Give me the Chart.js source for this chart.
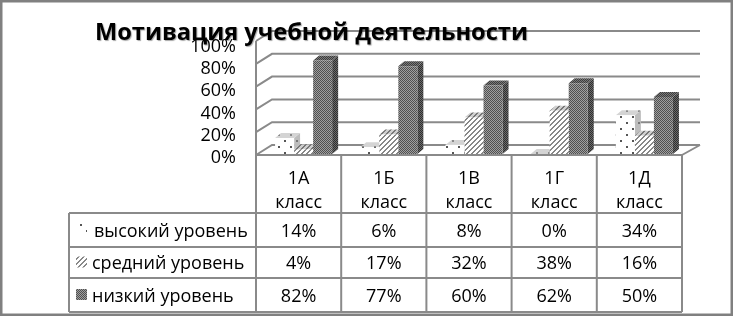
<!DOCTYPE html>
<html lang="ru">
<head>
    <meta charset="UTF-8">
    <title>Мотивация учебной деятельности</title>
    <script src="https://cdn.jsdelivr.net/npm/chart.js"></script>
    <style>
        html, body { margin: 0; padding: 0; background: #fff; overflow: hidden; }
        canvas { display: block; }
    </style>
</head>
<body>
    <canvas id="chart" width="733" height="316"></canvas>

    <script>
        const chartTitle = 'Мотивация учебной деятельности';
        const classNames = ['1А', '1Б', '1В', '1Г', '1Д'];
        const classWord = 'класс';
        const seriesNames = ['высокий уровень', 'средний уровень', 'низкий уровень'];
        const highLevel = [14, 6, 8, 0, 34];
        const middleLevel = [4, 17, 32, 38, 16];
        const lowLevel = [82, 77, 60, 62, 50];
        const yTicks = [0, 20, 40, 60, 80, 100];

        const FONT = '"Open Sans", sans-serif';
        const LINE = '#8a8a8a';

        // small tiles used as bar fills
        function tile(size, bg, paint) {
            const c = document.createElement('canvas');
            c.width = c.height = size;
            const g = c.getContext('2d');
            g.fillStyle = bg;
            g.fillRect(0, 0, size, size);
            paint(g);
            return g.createPattern(c, 'repeat');
        }
        function dots(bg, fg) {
            return tile(12, bg, g => {
                g.fillStyle = fg;
                g.fillRect(2, 2, 2, 2);
                g.fillRect(8, 8, 2, 2);
            });
        }
        function stripes(bg, fg) {
            return tile(5, bg, g => {
                g.fillStyle = fg;
                for (let i = 0; i < 5; i++) {
                    g.fillRect(i, 4 - i, 1, 1);
                    g.fillRect((i + 1) % 5, 4 - i, 1, 1);
                }
            });
        }
        function dense(bg, fg) {
            return tile(2, bg, g => {
                g.fillStyle = fg;
                g.fillRect(0, 0, 1, 1);
                g.fillRect(1, 1, 1, 1);
            });
        }

        const fronts = [dots('#ffffff', '#555555'), stripes('#ffffff', '#888888'), dense('#a0a0a0', '#505050')];
        const sides = [dots('#bdbdbd', '#777777'), stripes('#c4c4c4', '#6a6a6a'), dense('#6a6a6a', '#2e2e2e')];
        const tops = [dots('#d4d4d4', '#8a8a8a'), stripes('#cfcfcf', '#777777'), dense('#7a7a7a', '#3c3c3c')];

        const DEPTH_X = 6, DEPTH_Y = 5;

        // back wall, side wall and floor behind the bars
        function drawWalls(chart) {
            const ctx = chart.ctx, y = chart.scales.y, a = chart.chartArea;
            const left = a.left - 5, right = a.right - 5;
            ctx.save();
            ctx.strokeStyle = LINE;
            ctx.lineWidth = 2;
            yTicks.forEach(v => {
                const py = y.getPixelForValue(v);
                ctx.beginPath();
                ctx.moveTo(left, py + 1);
                ctx.lineTo(left + 16, py - 9);
                ctx.lineTo(right + 18, py - 9);
                ctx.stroke();
            });
            ctx.beginPath();
            ctx.moveTo(right, y.getPixelForValue(0) + 1);
            ctx.lineTo(right + 18, y.getPixelForValue(0) - 9);
            ctx.moveTo(left, y.getPixelForValue(100) + 1);
            ctx.lineTo(left, y.getPixelForValue(0) + 1);
            ctx.stroke();
            ctx.restore();
        }

        // side and top faces of one series
        function drawDepth(chart, index) {
            const ctx = chart.ctx, meta = chart.getDatasetMeta(index);
            ctx.save();
            meta.data.forEach(bar => {
                const l = bar.x - bar.width / 2, r = bar.x + bar.width / 2;
                ctx.fillStyle = sides[index];
                ctx.beginPath();
                ctx.moveTo(r, bar.y);
                ctx.lineTo(r + DEPTH_X, bar.y - DEPTH_Y);
                ctx.lineTo(r + DEPTH_X, bar.base - DEPTH_Y);
                ctx.lineTo(r, bar.base);
                ctx.closePath();
                ctx.fill();
                ctx.fillStyle = tops[index];
                ctx.beginPath();
                ctx.moveTo(l, bar.y);
                ctx.lineTo(l + DEPTH_X, bar.y - DEPTH_Y);
                ctx.lineTo(r + DEPTH_X, bar.y - DEPTH_Y);
                ctx.lineTo(r, bar.y);
                ctx.closePath();
                ctx.fill();
            });
            ctx.restore();
        }

        function drawTable(chart) {
            const ctx = chart.ctx, x = chart.scales.x, a = chart.chartArea;
            const step = (a.right - a.left) / classNames.length;
            const left = a.left - 5;
            const rowsY = [155, 213, 247, 278, 312];
            const tableLeft = 69;
            const columns = classNames.map((_, i) => x.getPixelForValue(i) - 5);
            const rows = [highLevel, middleLevel, lowLevel];
            const labelX = [94, 92, 92];

            ctx.save();
            ctx.strokeStyle = LINE;
            ctx.lineWidth = 2;
            ctx.beginPath();
            for (let i = 0; i <= classNames.length; i++) {
                ctx.moveTo(left + i * step, rowsY[0]);
                ctx.lineTo(left + i * step, rowsY[4]);
            }
            ctx.moveTo(left, rowsY[0]);
            ctx.lineTo(left + 5 * step, rowsY[0]);
            for (let r = 1; r < rowsY.length; r++) {
                ctx.moveTo(tableLeft, rowsY[r]);
                ctx.lineTo(left + 5 * step, rowsY[r]);
            }
            ctx.moveTo(tableLeft, rowsY[1]);
            ctx.lineTo(tableLeft, rowsY[4]);
            ctx.stroke();

            ctx.fillStyle = '#000';
            ctx.font = '18px ' + FONT;
            ctx.textAlign = 'center';
            ctx.textBaseline = 'middle';
            columns.forEach((cx, i) => {
                ctx.fillText(classNames[i], cx, 178.5);
                ctx.fillText(classWord, cx, 203);
                rows.forEach((row, r) => {
                    ctx.fillText(row[i] + '%', cx, (rowsY[r + 1] + rowsY[r + 2]) / 2 + 1.5);
                });
            });
            ctx.textAlign = 'left';
            seriesNames.forEach((name, r) => {
                const cy = (rowsY[r + 1] + rowsY[r + 2]) / 2;
                ctx.fillStyle = fronts[r];
                ctx.fillRect(76, cy - 6, 11, 11);
                ctx.fillStyle = '#000';
                ctx.fillText(name, labelX[r], cy + 1.5);
            });
            ctx.restore();
        }

        function drawYLabels(chart) {
            const ctx = chart.ctx;
            ctx.save();
            ctx.fillStyle = '#000';
            ctx.font = '18px ' + FONT;
            ctx.textAlign = 'right';
            ctx.textBaseline = 'middle';
            yTicks.forEach(v => {
                ctx.fillText(v + '%', 236, 158 - v * 1.115);
            });
            ctx.restore();
        }

        function drawTitle(chart) {
            const ctx = chart.ctx;
            ctx.save();
            ctx.font = 'bold 23.6px ' + FONT;
            ctx.textAlign = 'left';
            ctx.textBaseline = 'middle';
            ctx.shadowColor = 'rgba(0,0,0,0.35)';
            ctx.shadowOffsetX = 1;
            ctx.shadowOffsetY = 1;
            ctx.shadowBlur = 1;
            ctx.fillStyle = '#000';
            ctx.fillText(chartTitle, 95, 33);
            ctx.restore();
        }

        const sketchPlugin = {
            id: 'sketch',
            beforeDatasetsDraw(chart) {
                drawWalls(chart);
                // depth faces go first so the bar fronts sit on top of them
                [0, 1, 2].forEach(i => drawDepth(chart, i));
            },
            afterDraw(chart) {
                drawTable(chart);
                drawYLabels(chart);
                drawTitle(chart);
                const ctx = chart.ctx;
                ctx.save();
                ctx.strokeStyle = '#808080';
                ctx.lineWidth = 3;
                ctx.strokeRect(1, 1, 731, 314);
                ctx.restore();
            }
        };

        new Chart(document.getElementById('chart'), {
            type: 'bar',
            data: {
                labels: classNames,
                datasets: [
                    { label: seriesNames[0], data: highLevel, backgroundColor: fronts[0] },
                    { label: seriesNames[1], data: middleLevel, backgroundColor: fronts[1] },
                    { label: seriesNames[2], data: lowLevel, backgroundColor: fronts[2] }
                ]
            },
            options: {
                responsive: false,
                animation: false,
                devicePixelRatio: 1,
                layout: { padding: { left: 261, right: 46, top: 40, bottom: 162 } },
                datasets: { bar: { categoryPercentage: 0.67, barPercentage: 1 } },
                scales: {
                    x: { display: false },
                    y: { display: false, min: 0, max: 100 }
                },
                plugins: { legend: { display: false }, tooltip: { enabled: false } }
            },
            plugins: [sketchPlugin]
        });
    </script>
</body>
</html>
